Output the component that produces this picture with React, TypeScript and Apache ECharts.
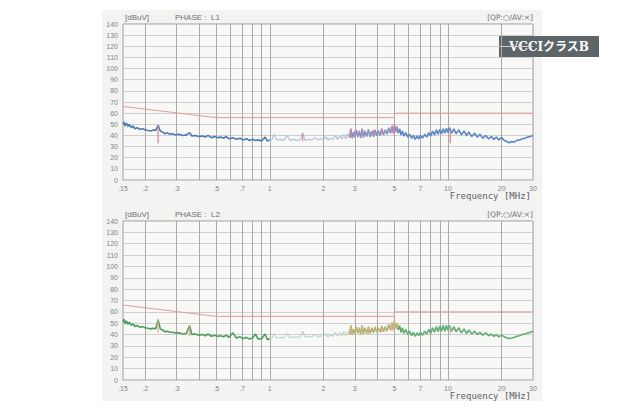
import React, { useEffect, useRef } from "react";
import * as echarts from "echarts";

// Axis ticks (MHz)
const labelFreqs = [0.15, 0.2, 0.3, 0.5, 0.7, 1, 2, 3, 5, 7, 10, 20, 30];
const labelTexts = [".15", ".2", ".3", ".5", ".7", "1", "2", "3", "5", "7", "10", "20", "30"];
const gridFreqs = [0.2, 0.3, 0.4, 0.5, 0.6, 0.7, 0.8, 0.9, 1, 2, 3, 4, 5, 6, 7, 8, 9, 10, 20];

// VCCI class B QP limit (dBuV)
const limitFreq = [0.15, 0.5, 5, 5, 30];
const limitLevel = [66, 56, 56, 60, 60];

// PHASE L1 trace
const l1Freq = [
  0.15, 0.152, 0.154, 0.157, 0.16, 0.163, 0.167, 0.171, 0.175, 0.18, 0.186, 0.193, 0.2, 0.207, 0.215, 0.222, 0.229, 0.236, 0.243, 0.25,
  0.258, 0.266, 0.275, 0.285, 0.295, 0.31, 0.325, 0.34, 0.355, 0.365, 0.38, 0.4, 0.42, 0.435, 0.45, 0.47, 0.49, 0.51, 0.53, 0.55,
  0.57, 0.59, 0.62, 0.65, 0.68, 0.71, 0.74, 0.77, 0.8, 0.83, 0.86, 0.9, 0.94, 0.97, 1.0,
  1.03, 1.06, 1.09, 1.15, 1.2, 1.25, 1.3, 1.36, 1.42, 1.48, 1.53, 1.58, 1.65, 1.72, 1.8, 1.86, 1.93, 2.0, 2.06, 2.12,
  2.2, 2.27, 2.33, 2.4, 2.47, 2.54, 2.6, 2.67, 2.74, 2.8,
  2.85, 2.9, 2.95, 3.0, 3.06, 3.12, 3.18, 3.24, 3.3, 3.36, 3.42, 3.5, 3.58, 3.66, 3.74, 3.82, 3.9, 3.98, 4.06, 4.15,
  4.25, 4.35, 4.45, 4.55, 4.65, 4.75, 4.85, 4.95, 5.0, 5.08, 5.16, 5.25,
  5.35, 5.45, 5.55, 5.65, 5.8, 5.95, 6.1, 6.25, 6.4, 6.55, 6.7, 6.85, 7.0, 7.2, 7.4, 7.6, 7.8, 8.0, 8.2, 8.4,
  8.6, 8.8, 9.0, 9.2, 9.4, 9.6, 9.8, 10.0, 10.2, 10.5, 10.8, 11.1, 11.5, 11.9, 12.3, 12.7, 13.1, 13.6, 14.1, 14.6,
  15.1, 15.7, 16.3, 16.9, 17.5, 18.1, 18.7, 19.3, 20.0, 20.7, 21.4, 22.1, 22.8, 23.5, 24.3, 25.2, 26.1, 27.0, 28.0, 29.0, 30.0,
];
const l1Level = [
  50, 52, 48.5, 51, 48, 50, 47, 48.5, 46, 47, 45.5, 46, 45, 44.5, 44, 45, 44.5, 49, 44, 43,
  41.5, 42.5, 41, 41.5, 40.5, 41, 40, 40.5, 42.5, 39.5, 40, 39, 39.5, 38.5, 40, 38, 39, 38, 38.5, 37.5,
  39, 37, 38, 36.5, 37.5, 36, 37, 35.5, 36.5, 35.5, 36, 35, 38.5, 35, 36,
  36.5, 41, 36, 36.5, 35.5, 40, 35.5, 36.5, 35.5, 36, 42, 35.5, 36.5, 36, 38, 36, 37, 36, 39, 36,
  37.5, 36.5, 40, 36.5, 39.5, 37, 41, 37, 41.5, 38,
  46, 37.5, 43, 38, 45, 38.5, 44, 37.5, 46, 38, 44, 39, 45.5, 38.5, 44, 39, 45, 39.5, 44.5, 40,
  46, 40.5, 45, 41, 47, 42, 48.5, 42, 50, 43, 48, 42,
  46, 40.5, 44, 39.5, 42.5, 38.5, 41, 37.5, 40, 36.5, 39.5, 37, 40, 37.5, 41, 38.5, 42.5, 39.5, 44, 40.5,
  45, 41, 45.5, 41.5, 46, 42, 46.5, 42.5, 47, 42, 46, 41.5, 45, 40.5, 44, 40, 43, 39, 42, 38.5,
  41, 37.5, 40, 37, 39, 36.5, 38.5, 36, 38, 35.5, 34.5, 33.5, 34.5, 34, 35.5, 36, 37, 37.5, 38.5, 39, 40,
];

// PHASE L2 trace
const l2Freq = l1Freq.slice();
const l2Level = [
  51, 53.5, 49.5, 52, 49, 51, 48, 49.5, 47, 48, 46.5, 47, 46, 45.5, 45, 45.5, 45, 53, 45, 44,
  42.5, 43, 42, 42, 41.5, 41.5, 40.5, 41, 48, 40, 40.5, 39.5, 40, 39, 40.5, 38.5, 39.5, 38.5, 39, 38,
  39.5, 37.5, 41.5, 37, 38, 36.5, 37.5, 36, 37, 40.5, 36, 36.5, 40.5, 35.5, 36.5,
  37, 41, 37, 37.5, 37, 41, 37, 38, 37.5, 38, 43, 37.5, 38.5, 38, 40, 38, 39, 38, 41, 38,
  39.5, 38.5, 42, 38.5, 41.5, 39, 43, 39, 43, 40,
  48, 40, 45, 40.5, 47, 41, 46, 40, 48, 40.5, 46, 41, 47, 41, 46, 41.5, 47, 42, 46, 42,
  47.5, 42.5, 47, 43, 49, 44, 50.5, 44, 52, 45, 50, 44,
  48, 42, 46, 41, 44.5, 40, 43, 39, 42, 38.5, 41.5, 39, 42, 39.5, 43, 40.5, 44.5, 41, 46, 42,
  47, 42.5, 47.5, 43, 48, 43, 48, 43.5, 48, 43, 47, 42.5, 46, 41.5, 45, 41, 44, 40.5, 43, 40,
  42, 39.5, 41.5, 39, 40.5, 38.5, 40, 38, 39.5, 38, 37, 36.5, 37, 37.5, 38.5, 39, 40, 40.5, 41.5, 42, 43,
];

// QP / AV markers (frequency, top, bottom)
const l1MarkFreq = [0.236, 1.53, 2.85, 3.0, 3.3, 3.82, 4.25, 4.85, 5.0, 10.3];
const l1MarkTop = [49, 42, 46, 44, 46, 45, 46, 48, 50, 46];
const l1MarkBottom = [33, 35, 38, 39, 40, 39, 41, 42, 40, 33];
const l2MarkFreq = [0.236, 0.355, 2.85, 3.3, 3.58, 4.25, 4.85, 5.0, 10.3];
const l2MarkTop = [53, 48, 48, 48, 47, 47, 50, 52, 47];
const l2MarkBottom = [42, 39, 40, 41, 41, 42, 43, 44, 41];

const lg = (f: number) => Math.log10(f);

function segment(freqs: number[], levels: number[], lo: number, hi: number) {
  const out: number[][] = [];
  freqs.forEach((f, i) => {
    if (f >= lo - 1e-9 && f <= hi + 1e-9) out.push([lg(f), levels[i]]);
  });
  return out;
}

function labelFor(v: number) {
  for (let i = 0; i < labelFreqs.length; i++) {
    if (Math.abs(lg(labelFreqs[i]) - v) < 1e-6) return labelTexts[i];
  }
  return "";
}

const panels = [
  {
    phase: "L1",
    top: 24,
    height: 156,
    freq: l1Freq,
    level: l1Level,
    markF: l1MarkFreq,
    markT: l1MarkTop,
    markB: l1MarkBottom,
    colors: ["#4c7bb6", "#b2c3dc", "#8393c4", "#5a88c2"],
    markColor: "#e07f92",
  },
  {
    phase: "L2",
    top: 221,
    height: 159,
    freq: l2Freq,
    level: l2Level,
    markF: l2MarkFreq,
    markT: l2MarkTop,
    markB: l2MarkBottom,
    colors: ["#4f9d63", "#c2d6c4", "#b3b478", "#62ad74"],
    markColor: "#e3a77a",
  },
];

const ranges: [number, number][] = [
  [0.15, 1.0],
  [1.0, 2.8],
  [2.8, 5.25],
  [5.25, 30],
];

export default function App() {
  const ref = useRef<HTMLDivElement>(null);
  useEffect(() => {
    if (!ref.current) return;
    const chart = echarts.init(ref.current, undefined, { renderer: "svg" });
    const textColor = "#707070";
    const labelFont = "'Liberation Sans', Arial, sans-serif";

    const grids: any[] = [];
    const xAxes: any[] = [];
    const yAxes: any[] = [];
    const series: any[] = [];
    const graphics: any[] = [
      {
        type: "rect",
        z: -10,
        shape: { x: 102, y: 10, width: 440, height: 391 },
        style: { fill: "#f3f3f2" },
      },
    ];

    panels.forEach((p, gi) => {
      grids.push({
        left: 123,
        top: p.top,
        width: 410,
        height: p.height,
        show: true,
        backgroundColor: "#f8f8f7",
        borderColor: "#9a9a9a",
        borderWidth: 1,
      });
      xAxes.push({
        type: "value",
        gridIndex: gi,
        min: lg(0.15),
        max: lg(30),
        axisLine: { show: false },
        axisTick: { show: false, customValues: gridFreqs.map(lg) },
        splitLine: { show: true, lineStyle: { color: "#a9a9a9", width: 1 } },
        axisLabel: {
          customValues: labelFreqs.map(lg),
          formatter: (v: number) => labelFor(v),
          fontSize: 7,
          color: "#858585",
          margin: 5,
          fontFamily: labelFont,
        },
      });
      yAxes.push({
        type: "value",
        gridIndex: gi,
        min: 0,
        max: 140,
        interval: 10,
        axisLine: { show: false },
        axisTick: { show: false },
        splitLine: { show: true, lineStyle: { color: "#cfcfcf", width: 1 } },
        axisLabel: { fontSize: 7, color: "#858585", margin: 5, fontFamily: labelFont },
      });

      // limit line
      series.push({
        type: "line",
        xAxisIndex: gi,
        yAxisIndex: gi,
        data: limitFreq.map((f, i) => [lg(f), limitLevel[i]]),
        symbol: "none",
        lineStyle: { color: "#e59a9a", width: 1 },
        z: 3,
      });

      ranges.forEach((r, ri) => {
        series.push({
          type: "line",
          xAxisIndex: gi,
          yAxisIndex: gi,
          data: segment(p.freq, p.level, r[0], r[1]),
          symbol: "none",
          lineStyle: { color: p.colors[ri], width: ri === 1 ? 1.2 : 1.6 },
          z: 4,
        });
      });

      series.push({
        type: "custom",
        xAxisIndex: gi,
        yAxisIndex: gi,
        data: p.markF.map((f, i) => [lg(f), p.markT[i], p.markB[i]]),
        encode: { x: 0, y: [1, 2] },
        z: 5,
        renderItem: (_params: any, api: any) => {
          const a = api.coord([api.value(0), api.value(1)]);
          const b = api.coord([api.value(0), api.value(2)]);
          return {
            type: "line",
            shape: { x1: a[0], y1: a[1], x2: b[0], y2: b[1] },
            style: { stroke: p.markColor, lineWidth: 1.2 },
          };
        },
      });

      const ty = p.top - 7;
      graphics.push(
        {
          type: "text",
          x: 125,
          y: ty,
          style: { text: "[dBuV]", fill: textColor, fontSize: 8, fontFamily: labelFont, verticalAlign: "middle" },
        },
        {
          type: "text",
          x: 175,
          y: ty,
          style: { text: "PHASE :  " + p.phase, fill: textColor, fontSize: 8, fontFamily: labelFont, verticalAlign: "middle" },
        },
        {
          type: "text",
          x: 533,
          y: ty,
          style: {
            text: "[QP:○/AV:×]",
            fill: textColor,
            fontSize: 7.5,
            fontFamily: "'DejaVu Sans', sans-serif",
            align: "right",
            verticalAlign: "middle",
          },
        },
        {
          type: "text",
          x: 531,
          y: p.top + p.height + 16,
          style: {
            text: "Frequency [MHz]",
            fill: "#606060",
            fontSize: 9,
            fontFamily: "'DejaVu Sans Mono', monospace",
            align: "right",
            verticalAlign: "middle",
          },
        }
      );
    });

    graphics.push({
      type: "group",
      children: [
        { type: "rect", shape: { x: 499, y: 36, width: 100, height: 21 }, style: { fill: "#5e6569" } },
        {
          type: "text",
          x: 549,
          y: 46.5,
          style: {
            text: "VCCIクラスB",
            fill: "#ffffff",
            fontSize: 12,
            fontWeight: "bold",
            fontFamily: "'DejaVu Serif', 'Noto Sans CJK JP', serif",
            align: "center",
            verticalAlign: "middle",
          },
        },
      ],
    });

    chart.setOption({
      animation: false,
      backgroundColor: "#ffffff",
      grid: grids,
      xAxis: xAxes,
      yAxis: yAxes,
      series,
      graphic: graphics,
    });
    return () => chart.dispose();
  }, []);
  return <div ref={ref} style={{ position: "fixed", left: 0, top: 0, width: 623, height: 409 }} />;
}
